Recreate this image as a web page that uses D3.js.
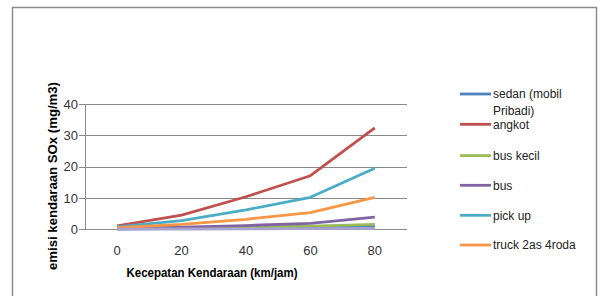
<!DOCTYPE html>
<html><head><meta charset="utf-8">
<script src="https://cdn.jsdelivr.net/npm/d3@7"></script>
<style>html,body{margin:0;padding:0;background:#fff;}svg{display:block;}</style>
</head><body>
<script>
const speeds = ["0", "20", "40", "60", "80"];
const seriesNames = ["sedan (mobil Pribadi)", "angkot", "bus kecil", "bus", "pick up", "truck 2as 4roda", ""];
const sedan   = [0.1, 0.3, 0.5, 0.7, 1.0];
const angkot  = [1.1, 4.5, 10.4, 17.1, 32.4];
const busKecil= [0.2, 0.4, 0.7, 1.0, 1.6];
const bus     = [0.3, 0.7, 1.2, 1.9, 3.9];
const pickUp  = [0.8, 2.8, 6.2, 10.2, 19.5];
const truck   = [0.5, 1.6, 3.2, 5.3, 10.2];
const extra   = [0.05, 0.1, 0.15, 0.2, 0.3];
const yTicks  = [0, 10, 20, 30, 40];
const colors  = ["#4F81BD", "#C0504D", "#9BBB59", "#8064A2", "#4BACC6", "#F79646", "#A8A3CF"];
const allSeries = [sedan, angkot, busKecil, bus, pickUp, truck, extra];

const W = 602, H = 296;
const svg = d3.select("body").append("svg").attr("width", W).attr("height", H);

// outer chart border
svg.append("rect").attr("x", 12.5).attr("y", 7.5).attr("width", 584).attr("height", 300)
  .attr("fill", "#fff").attr("stroke", "#8c8c8c").attr("stroke-width", 1.5);

const plot = {left: 85, right: 407, top: 104, bottom: 229.3};
const x = d3.scaleBand().domain(speeds).range([plot.left, plot.right]);
const y = d3.scaleLinear().domain([0, 40]).range([plot.bottom, plot.top]);
const font = "'Liberation Sans', Arial, sans-serif";

// gridlines
svg.append("g").selectAll("line").data(yTicks).join("line")
  .attr("x1", plot.left - 6).attr("x2", plot.right)
  .attr("y1", d => Math.round(y(d)) + 0.5).attr("y2", d => Math.round(y(d)) + 0.5)
  .attr("stroke", "#8a8a8a").attr("stroke-width", 1);
// y axis line
svg.append("line").attr("x1", plot.left + 0.5).attr("x2", plot.left + 0.5)
  .attr("y1", plot.top).attr("y2", Math.round(plot.bottom) + 0.5)
  .attr("stroke", "#8a8a8a");

// y tick labels
svg.append("g").selectAll("text").data(yTicks).join("text")
  .attr("x", 78).attr("y", d => y(d)).attr("dy", "0.35em")
  .attr("text-anchor", "end").attr("font-family", font).attr("font-size", 13)
  .attr("fill", "#333").text(d => d);

// x tick labels
svg.append("g").selectAll("text").data(speeds).join("text")
  .attr("x", d => x(d) + x.bandwidth() / 2).attr("y", 250).attr("dy", "0.35em")
  .attr("text-anchor", "middle").attr("font-family", font).attr("font-size", 13)
  .attr("fill", "#333").text(d => d);

// lines
const line = d3.line().x((d, i) => x(speeds[i]) + x.bandwidth() / 2).y(d => y(d));
svg.append("g").selectAll("path").data(allSeries).join("path")
  .attr("d", d => line(d)).attr("fill", "none")
  .attr("stroke", (d, i) => colors[i]).attr("stroke-width", 2.8)
  .attr("stroke-linejoin", "round");

// axis titles
svg.append("text").attr("x", 212).attr("y", 273).attr("dy", "0.35em")
  .attr("text-anchor", "middle").attr("font-family", font).attr("font-weight", "bold")
  .attr("font-size", 12).attr("fill", "#000")
  .attr("textLength", 171).attr("lengthAdjust", "spacingAndGlyphs")
  .text("Kecepatan Kendaraan (km/jam)");
svg.append("text").attr("transform", "translate(53,176) rotate(-90)").attr("dy", "0.35em")
  .attr("text-anchor", "middle").attr("font-family", font).attr("font-weight", "bold")
  .attr("font-size", 12).attr("fill", "#000")
  .attr("textLength", 188).attr("lengthAdjust", "spacingAndGlyphs")
  .text("emisi kendaraan SOx (mg/m3)");

// legend
const legendY = [94, 124.3, 155.6, 185.3, 215.3, 245];
const lg = svg.append("g");
seriesNames.slice(0, 6).forEach((name, i) => {
  lg.append("line").attr("x1", 460).attr("x2", 491)
    .attr("y1", legendY[i]).attr("y2", legendY[i])
    .attr("stroke", colors[i]).attr("stroke-width", 2.8);
  const t = lg.append("text").attr("x", 493).attr("y", legendY[i]).attr("dy", "0.35em")
    .attr("font-family", font).attr("font-size", 12).attr("fill", "#222");
  if (i === 0) {
    t.append("tspan").attr("x", 493).text("sedan (mobil");
    t.append("tspan").attr("x", 493).attr("dy", 17).text("Pribadi)");
  } else {
    t.text(name);
  }
});
</script>
</body></html>
